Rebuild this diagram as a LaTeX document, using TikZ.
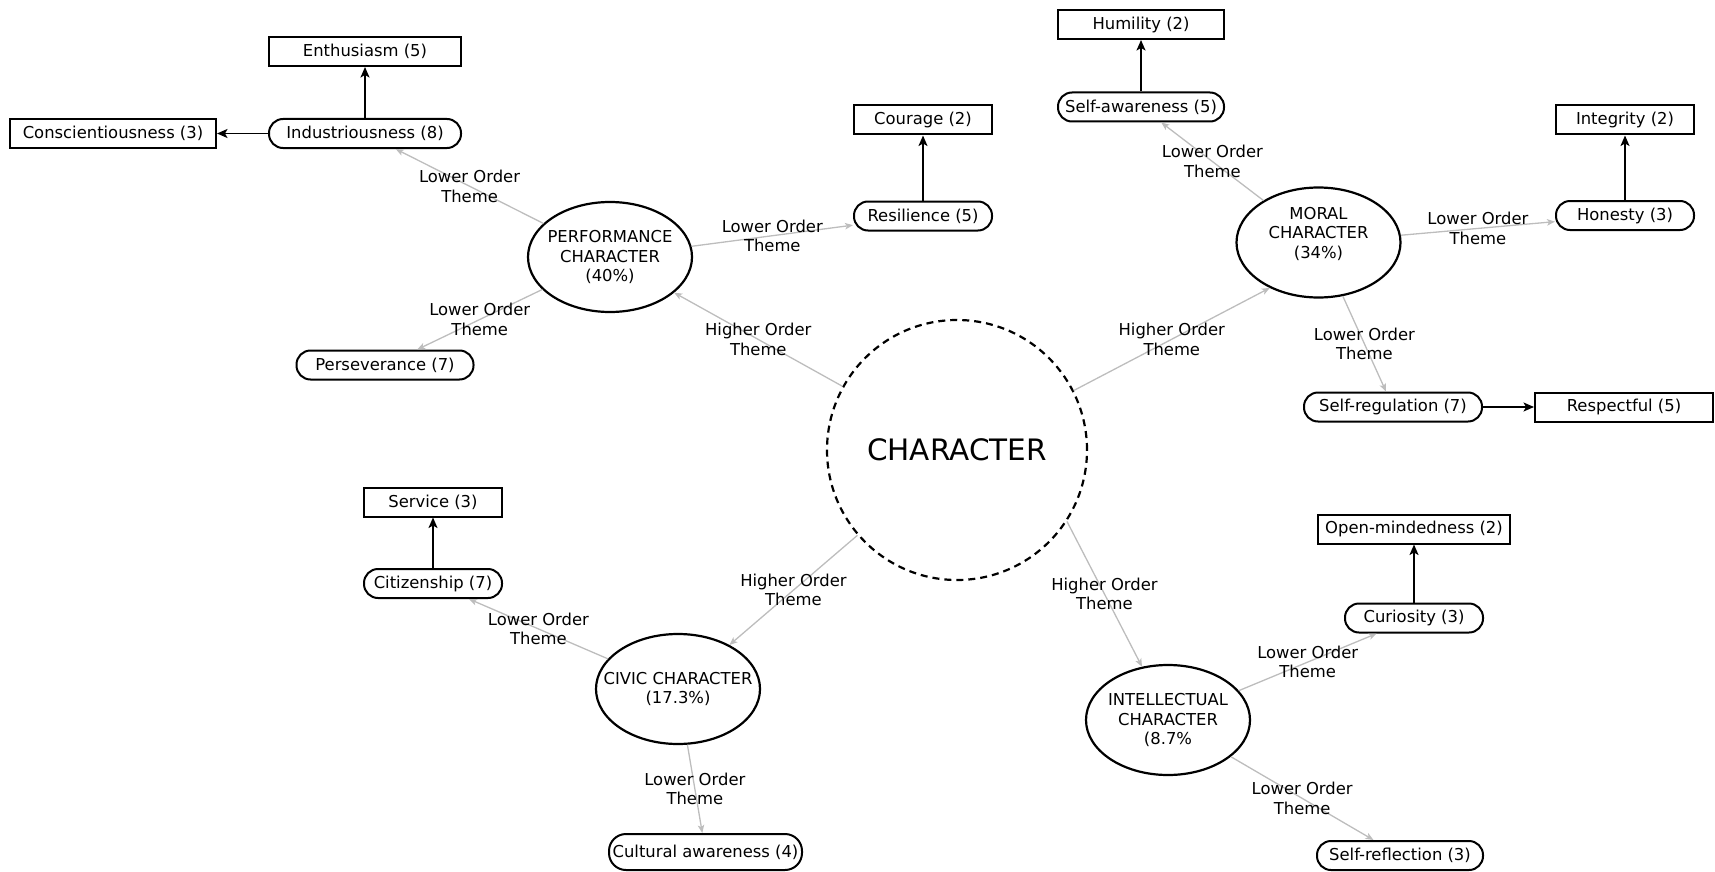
\documentclass[tikz,border=0pt]{standalone}
\usepackage{fontspec}
\setmainfont{DejaVu Sans}
\usepackage{tikz}
\usetikzlibrary{arrows,arrows.meta,shapes}
\definecolor{linkgrey}{HTML}{BDBDBD}
\tikzstyle{leafbox} = [draw, line width=2pt, rectangle, minimum height=29pt, inner sep=0pt]
\tikzstyle{themebox} = [draw, line width=2pt, rectangle, rounded corners=14pt, minimum height=29pt, inner sep=0pt]
\tikzstyle{groupbox} = [draw, line width=2.2pt, ellipse, minimum width=164pt, minimum height=110pt, inner ysep=0pt, inner xsep=-22pt, align=center]
\tikzstyle{corebox} = [draw, line width=2.2pt, circle, dash pattern=on 7pt off 5pt, minimum size=260pt, font=\fontsize{29.5}{34}\selectfont]
\tikzstyle{greyedge} = [draw=linkgrey, line width=1.3pt, >={Stealth[length=8pt,width=6.5pt,inset=2pt]}]
\tikzstyle{blackedge} = [draw=black, line width=1.6pt, >={Stealth[length=10.5pt,width=9pt,inset=2.5pt]}]
\tikzstyle{themelabel} = [align=center, inner sep=0pt]

\begin{document}
\begin{tikzpicture}[x=1pt, y=-1pt, >=stealth', font=\fontsize{16.4}{19.5}\selectfont]
        \useasboundingbox (0,0) rectangle (1715,872);
        \path[] node[corebox] (core) at (957,450) {CHARACTER};
        % higher order themes
        \path[] node[groupbox] (perf) at (610,257) {PERFORMANCE\\CHARACTER\\(40\%)};
        \path[] node[groupbox] (moral) at (1318.5,242.5) {MORAL\\CHARACTER\\(34\%)\\\mbox{}};
        \path[] node[groupbox] (civic) at (678,689) {CIVIC CHARACTER\\(17.3\%)};
        \path[] node[groupbox] (intel) at (1168,720) {INTELLECTUAL\\CHARACTER\\(8.7\%};
        % lower order themes
        \path[] node[themebox, minimum width=192pt] (indus) at (365,133.5) {Industriousness (8)};
        \path[] node[themebox, minimum width=177pt] (perse) at (385,365) {Perseverance (7)};
        \path[] node[themebox, minimum width=138pt] (resil) at (923,216) {Resilience (5)};
        \path[] node[themebox, minimum width=166pt] (selfaw) at (1141,107) {Self-awareness (5)};
        \path[] node[themebox, minimum width=138pt] (honest) at (1625,215.5) {Honesty (3)};
        \path[] node[themebox, minimum width=178pt] (selfreg) at (1393,407) {Self-regulation (7)};
        \path[] node[themebox, minimum width=138pt] (citiz) at (433,583.5) {Citizenship (7)};
        \path[] node[themebox, minimum width=193pt, minimum height=36pt, rounded corners=17pt] (cultur) at (705.5,852) {Cultural awareness (4)};
        \path[] node[themebox, minimum width=138pt] (curios) at (1414,618) {Curiosity (3)};
        \path[] node[themebox, minimum width=166pt] (selfref) at (1400,855.5) {Self-reflection (3)};
        % codes
        \path[] node[leafbox, minimum width=192pt, above of=indus, node distance=82pt] (enthus) {Enthusiasm (5)};
        \path[] node[leafbox, minimum width=206pt, left of=indus, node distance=252pt] (consc) {Conscientiousness (3)};
        \path[] node[leafbox, minimum width=138pt, above of=resil, node distance=96pt] (courage) {Courage (2)};
        \path[] node[leafbox, minimum width=166pt, above of=selfaw, node distance=82.5pt] (humil) {Humility (2)};
        \path[] node[leafbox, minimum width=138pt, above of=honest, node distance=95.5pt] (integ) {Integrity (2)};
        \path[] node[leafbox, minimum width=178pt, right of=selfreg, node distance=231pt] (respect) {Respectful (5)};
        \path[] node[leafbox, minimum width=138pt, above of=citiz, node distance=81.5pt] (service) {Service (3)};
        \path[] node[leafbox, minimum width=192pt, above of=curios, node distance=89pt] (openm) {Open-mindedness (2)};
        % higher order links
        \path[->] (core) edge[greyedge] node[themelabel] {Higher Order\\Theme} (perf);
        \path[->] (core.27) edge[greyedge] node[themelabel] {Higher Order\\Theme} (moral.223);
        \path[->] (core) edge[greyedge] node[themelabel] {Higher Order\\Theme} (civic);
        \path[->] (core.-33) edge[greyedge] node[themelabel] {Higher Order\\Theme} (intel.116);
        % lower order links
        \path[->] (perf) edge[greyedge] node[themelabel] {Lower Order\\Theme} (indus);
        \path[->] (perf) edge[greyedge] node[themelabel] {Lower Order\\Theme} (perse);
        \path[->] (perf) edge[greyedge] node[themelabel] {Lower Order\\Theme} (resil);
        \path[->] (moral) edge[greyedge] node[themelabel] {Lower Order\\Theme} (selfaw);
        \path[->] (moral) edge[greyedge] node[themelabel] {Lower Order\\Theme} (honest);
        \path[->] (moral) edge[greyedge] node[themelabel] {Lower Order\\Theme} (selfreg);
        \path[->] (civic) edge[greyedge] node[themelabel] {Lower Order\\Theme} (citiz);
        \path[->] (civic) edge[greyedge] node[themelabel] {Lower Order\\Theme} (cultur);
        \path[->] (intel) edge[greyedge] node[themelabel] {Lower Order\\Theme} (curios);
        \path[->] (intel) edge[greyedge] node[themelabel] {Lower Order\\Theme} (selfref);
        % code links
        \path[->] (indus) edge[blackedge] (enthus);
        \path[->] (indus) edge[blackedge] (consc);
        \path[->] (resil) edge[blackedge] (courage);
        \path[->] (selfaw) edge[blackedge] (humil);
        \path[->] (honest) edge[blackedge] (integ);
        \path[->] (selfreg) edge[blackedge] (respect);
        \path[->] (citiz) edge[blackedge] (service);
        \path[->] (curios) edge[blackedge] (openm);
      \end{tikzpicture}
\end{document}
